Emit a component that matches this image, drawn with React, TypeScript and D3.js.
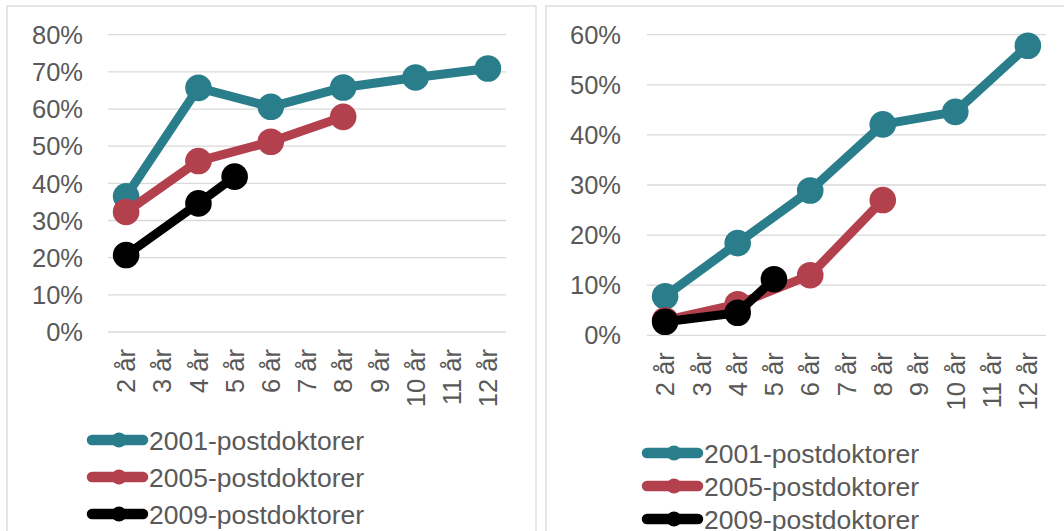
import React from 'react'
import * as d3 from 'd3'

const categories = ['2 år', '3 år', '4 år', '5 år', '6 år', '7 år', '8 år', '9 år', '10 år', '11 år', '12 år']
const seriesNames = ['2001-postdoktorer', '2005-postdoktorer', '2009-postdoktorer']
const colors = ['#2A7E8B', '#B3404D', '#000000']

// left panel values (share, by year after)
const left2001 = [['2 år', 0.365], ['4 år', 0.657], ['6 år', 0.606], ['8 år', 0.658], ['10 år', 0.685], ['12 år', 0.709]]
const left2005 = [['2 år', 0.323], ['4 år', 0.46], ['6 år', 0.512], ['8 år', 0.579]]
const left2009 = [['2 år', 0.207], ['4 år', 0.346], ['5 år', 0.418]]
const leftTicks = [0, 0.1, 0.2, 0.3, 0.4, 0.5, 0.6, 0.7, 0.8]

// right panel values
const right2001 = [['2 år', 0.078], ['4 år', 0.184], ['6 år', 0.289], ['8 år', 0.421], ['10 år', 0.446], ['12 år', 0.578]]
const right2005 = [['2 år', 0.03], ['4 år', 0.062], ['6 år', 0.12], ['8 år', 0.27]]
const right2009 = [['2 år', 0.027], ['4 år', 0.045], ['5 år', 0.112]]
const rightTicks = [0, 0.1, 0.2, 0.3, 0.4, 0.5, 0.6]

const font = '"Liberation Sans", Arial, sans-serif'
const textColor = '#595959'
const gridColor = '#D9D9D9'

const Panel = (props) => {
    const { box, xRange, yRange, yMax, ticks, series, labelRight, legendX, legendY, legendStep } = props

    const xScale = d3.scaleBand().domain(categories).range(xRange)
    const yScale = d3.scaleLinear().domain([0, yMax]).range(yRange)
    const cx = (c) => xScale(c) + xScale.bandwidth() / 2

    const line = d3.line()
        .x(d => cx(d[0]))
        .y(d => yScale(d[1]))

    const fmt = d3.format('.0%')

    return (
        <g>
            <rect x={box[0]} y={box[1]} width={box[2]} height={box[3]} fill="#fff" stroke={gridColor} strokeWidth={1.3} />
            {ticks.map(t => (
                <g key={t}>
                    <line x1={xRange[0]} x2={xRange[1]} y1={yScale(t)} y2={yScale(t)} stroke={gridColor} strokeWidth={1.3} />
                    <text x={labelRight} y={yScale(t)} dy="0.36em" textAnchor="end" fontSize={25.5} fill={textColor} fontFamily={font}>{fmt(t)}</text>
                </g>
            ))}
            {categories.map(c => (
                <text key={c} transform={`translate(${cx(c)},${yScale(0) + 17}) rotate(-90)`} dy="0.36em" textAnchor="end" fontSize={25.5} fill={textColor} fontFamily={font}>{c}</text>
            ))}
            {series.map((s, i) => (
                <g key={i}>
                    <path d={line(s)} fill="none" stroke={colors[i]} strokeWidth={9} strokeLinejoin="round" />
                    {s.map(d => (
                        <circle key={d[0]} cx={cx(d[0])} cy={yScale(d[1])} r={13.3} fill={colors[i]} />
                    ))}
                </g>
            ))}
            {seriesNames.map((n, i) => (
                <g key={n} transform={`translate(${legendX},${legendY + i * legendStep})`}>
                    <line x1={10} x2={61} y1={0} y2={0} stroke={colors[i]} strokeWidth={10.5} strokeLinecap="round" />
                    <circle cx={37} cy={0} r={7.5} fill={colors[i]} />
                    <text x={67} y={0} dy="0.36em" fontSize={26.5} fill={textColor} fontFamily={font}>{n}</text>
                </g>
            ))}
        </g>
    )
}

const App = () => {
    return (
        <svg width={1064} height={531} style={{ position: 'absolute', left: 0, top: 0, background: '#fff' }}>
            <Panel
                box={[7, 6, 529, 600]}
                xRange={[108, 506]}
                yRange={[332, 34.7]}
                yMax={0.8}
                ticks={leftTicks}
                series={[left2001, left2005, left2009]}
                labelRight={83}
                legendX={82}
                legendY={440}
                legendStep={37}
            />
            <Panel
                box={[546, 6, 560, 600]}
                xRange={[647, 1046]}
                yRange={[335.3, 34.7]}
                yMax={0.6}
                ticks={rightTicks}
                series={[right2001, right2005, right2009]}
                labelRight={621}
                legendX={637}
                legendY={453}
                legendStep={33}
            />
        </svg>
    )
}

export default App
